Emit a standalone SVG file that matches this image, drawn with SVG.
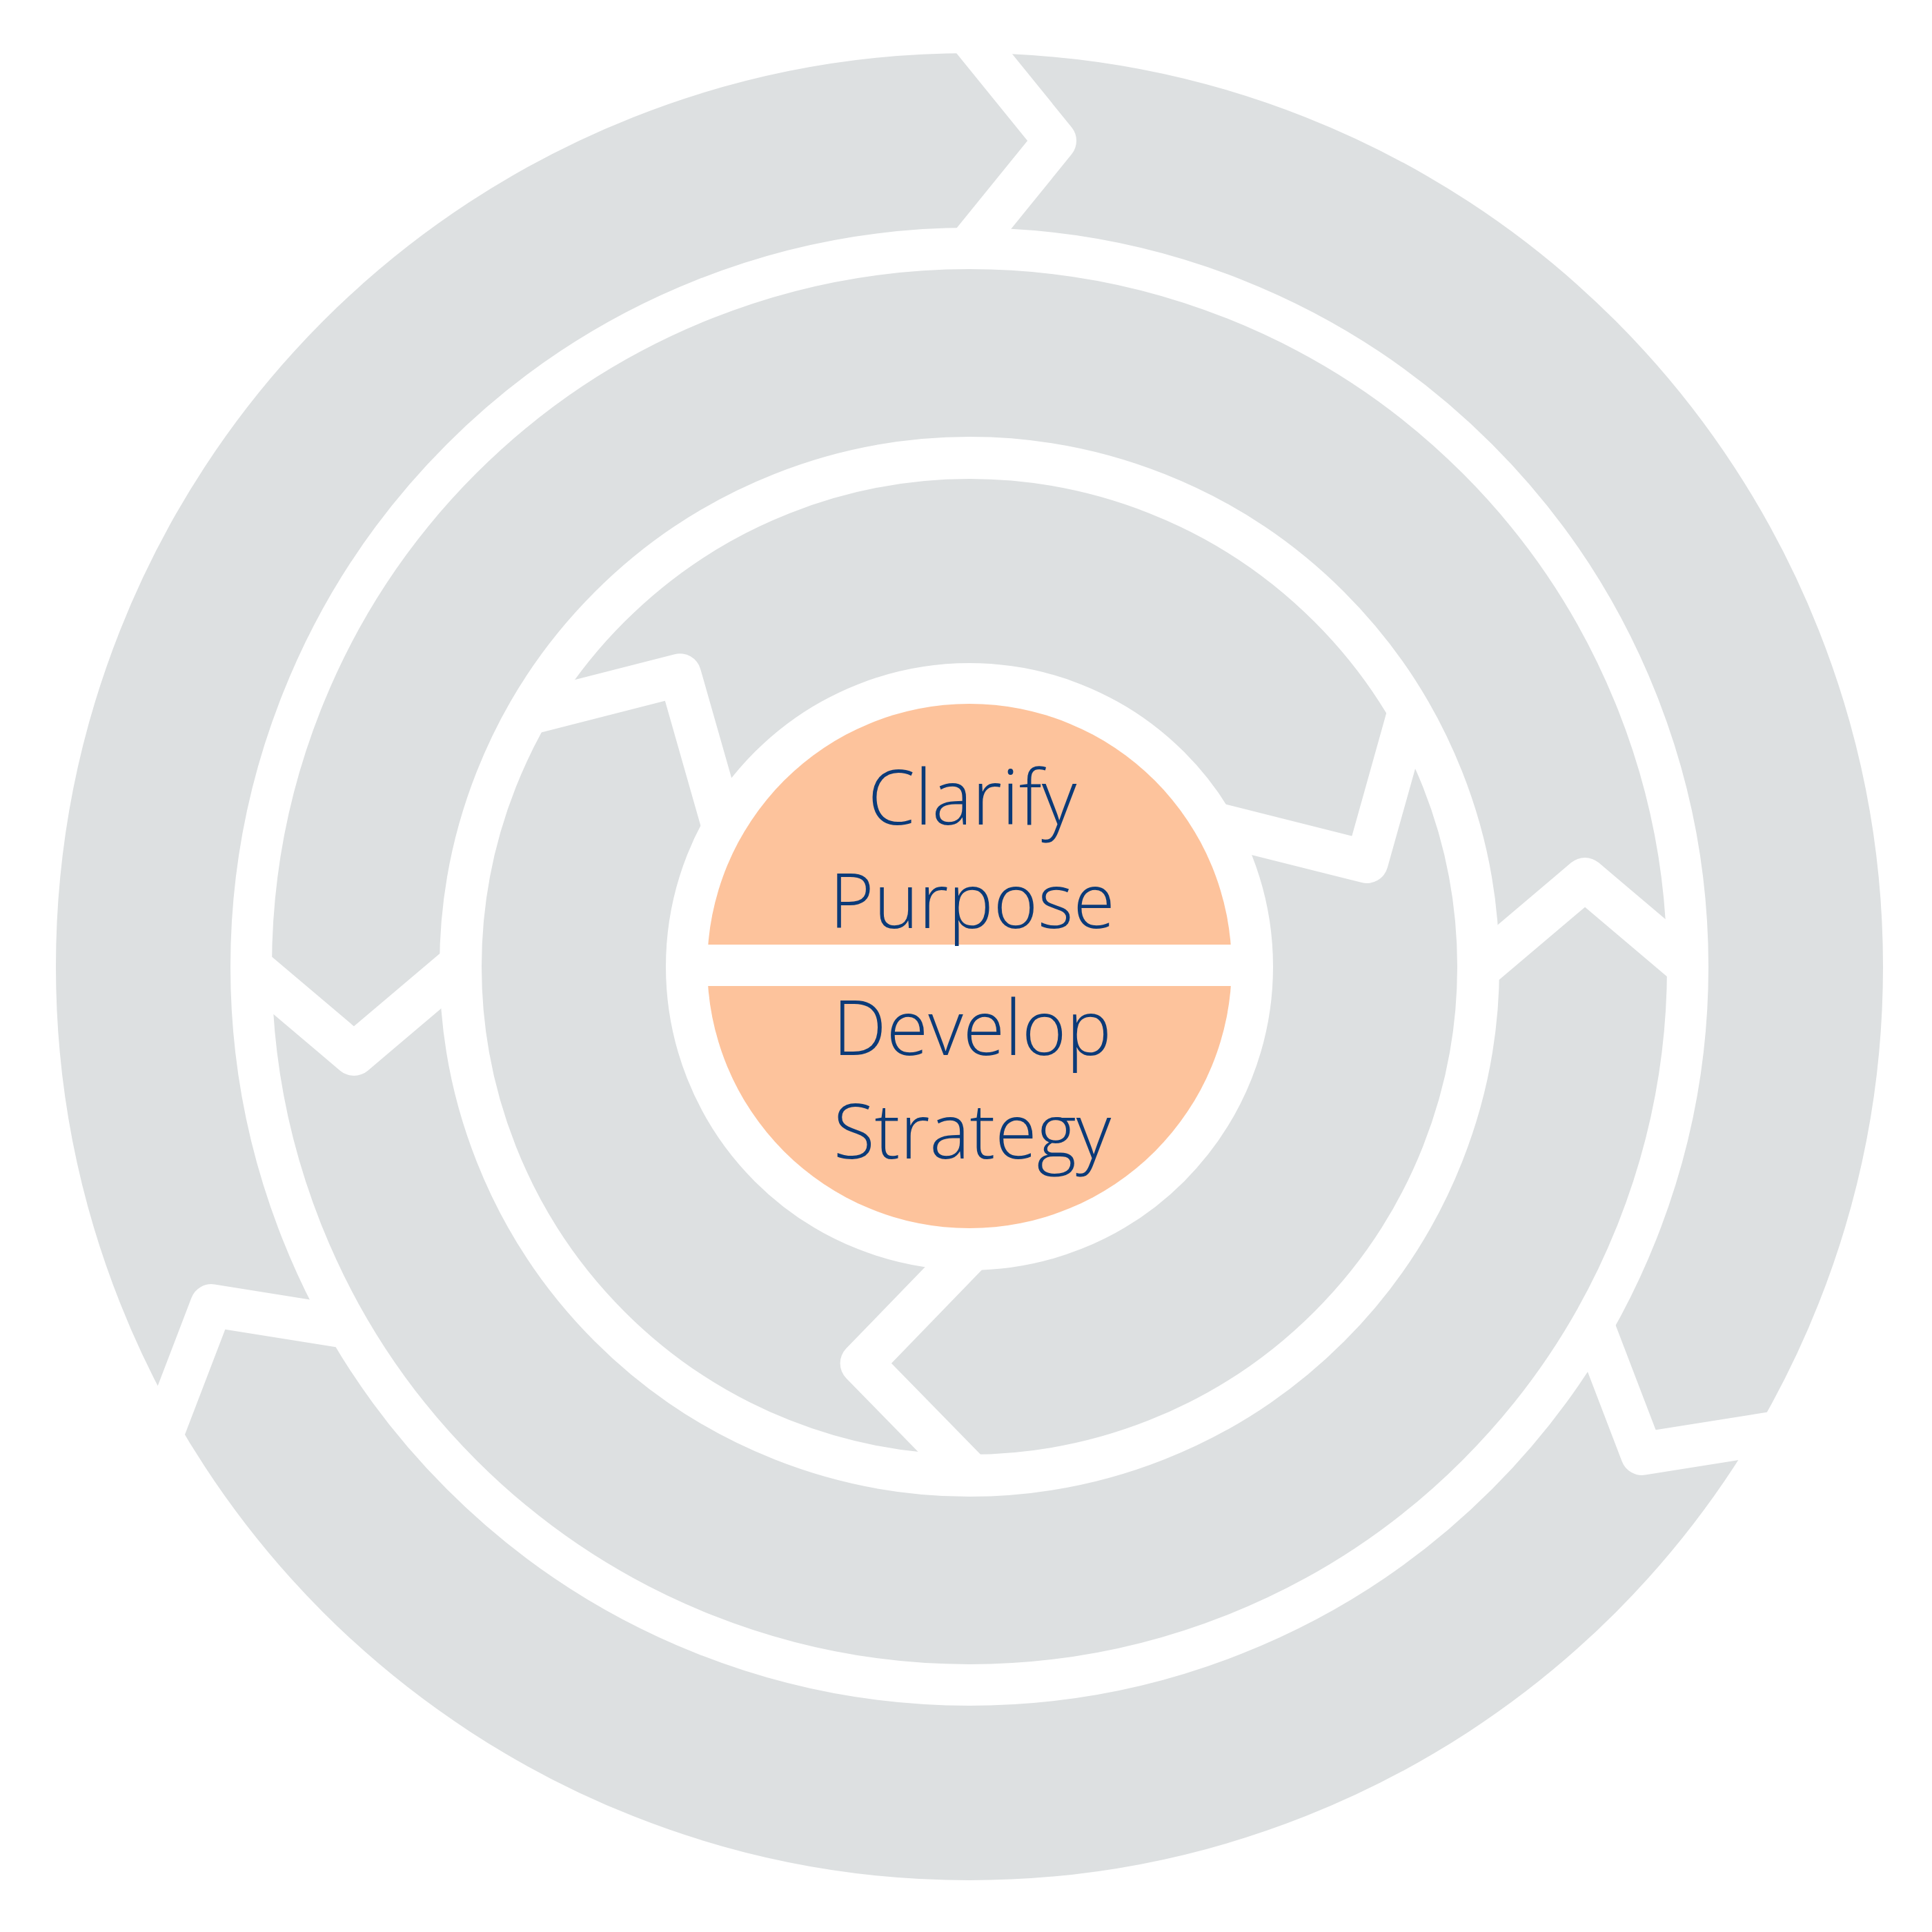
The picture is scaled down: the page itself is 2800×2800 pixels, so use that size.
<svg xmlns="http://www.w3.org/2000/svg" width="2800" height="2800" viewBox="0 0 2800 2800">
  <style>
    .ring { fill: none; stroke: #DDE0E1; }
    .gap { fill: none; stroke: #FFFFFF; stroke-width: 62; stroke-linejoin: round; stroke-linecap: butt; }
    .label { font-family: "Open Sans", "Liberation Sans", sans-serif; font-weight: 300; font-size: 110px; fill: #0B3A78; text-anchor: middle; }
  </style>
  <defs>
    <clipPath id="clipOuter">
      <path clip-rule="evenodd" d="M5,1401 a1400,1400 0 1 0 2800,0 a1400,1400 0 1 0 -2800,0 Z M364,1401 a1041,1041 0 1 0 2082,0 a1041,1041 0 1 0 -2082,0 Z"/>
    </clipPath>
    <clipPath id="clipMiddle">
      <path clip-rule="evenodd" d="M364,1401 a1041,1041 0 1 0 2082,0 a1041,1041 0 1 0 -2082,0 Z M667,1401 a738,738 0 1 0 1476,0 a738,738 0 1 0 -1476,0 Z"/>
    </clipPath>
    <clipPath id="clipInner">
      <path clip-rule="evenodd" d="M667,1401 a738,738 0 1 0 1476,0 a738,738 0 1 0 -1476,0 Z M995,1401 a410,410 0 1 0 820,0 a410,410 0 1 0 -820,0 Z"/>
    </clipPath>
    <polyline id="chevOuter" points="1340,-29 1529,204 1340,437"/>
    <polyline id="chevMiddle" points="2068,1468 2297,1274 2526,1468"/>
    <polyline id="chevInner" points="1690,1176 1981,1249 2062,960"/>
  </defs>
  <rect x="0" y="0" width="2800" height="2800" fill="#FFFFFF"/>

  <g id="outer-ring">
    <circle class="ring" cx="1405" cy="1401" r="1197.5" stroke-width="253"/>
    <g class="gap" clip-path="url(#clipOuter)">
      <use href="#chevOuter"/>
      <use href="#chevOuter" transform="rotate(120 1405 1401)"/>
      <use href="#chevOuter" transform="rotate(240 1405 1401)"/>
    </g>
  </g>

  <g id="middle-ring">
    <circle class="ring" cx="1405" cy="1401" r="889.5" stroke-width="243"/>
    <g class="gap" clip-path="url(#clipMiddle)">
      <use href="#chevMiddle"/>
      <use href="#chevMiddle" transform="rotate(180 1405 1401)"/>
    </g>
  </g>

  <g id="inner-ring">
    <circle class="ring" cx="1405" cy="1401" r="573.5" stroke-width="267"/>
    <g class="gap" clip-path="url(#clipInner)">
      <use href="#chevInner"/>
      <use href="#chevInner" transform="rotate(120 1405 1401)"/>
      <use href="#chevInner" transform="rotate(240 1405 1401)"/>
    </g>
  </g>

  <g id="center">
    <circle cx="1405" cy="1400" r="380" fill="#FDC39C"/>
    <rect x="1000" y="1369" width="810" height="60" fill="#FFFFFF"/>
  </g>

  <g id="clarify-purpose">
    <text class="label" x="1409" y="1195">Clarify</text>
    <text class="label" x="1409" y="1345">Purpose</text>
  </g>

  <g id="develop-strategy">
    <text class="label" x="1409" y="1529">Develop</text>
    <text class="label" x="1409" y="1679">Strategy</text>
  </g>

  <g id="connectors"/>
</svg>
